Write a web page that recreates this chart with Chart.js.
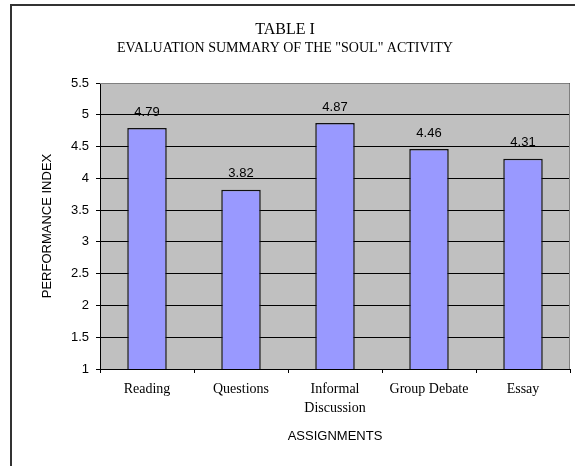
<!DOCTYPE html>
<html>
<head>
<meta charset="utf-8">
<title>TABLE I - Evaluation summary</title>
<script src="https://cdn.jsdelivr.net/npm/chart.js@4.4.1/dist/chart.umd.min.js"></script>
<style>
  html, body { margin: 0; padding: 0; background: #fff; }
  #chart { display: block; }
</style>
</head>
<body>
<canvas id="chart" width="575" height="466"></canvas>
<script>
// データ
const categories = ['Reading', 'Questions', ['Informal', 'Discussion'], 'Group Debate', 'Essay'];
const scores = [4.79, 3.82, 4.87, 4.46, 4.31];
const yTickLabels = ['1', '1.5', '2', '2.5', '3', '3.5', '4', '4.5', '5', '5.5'];

const SERIF = "'Liberation Serif', 'Times New Roman', serif";
const SANS = "'Liberation Sans', Arial, sans-serif";

/**
 * 外枠・プロットエリア背景
 */
const plotFrame = {
  id: 'plotFrame',
  beforeDraw(chart) {
    const { ctx, chartArea: a } = chart;
    ctx.save();
    ctx.fillStyle = '#fff';
    ctx.fillRect(0, 0, chart.width, chart.height);
    // 外枠（右と下は切れている）
    ctx.strokeStyle = '#333';
    ctx.lineWidth = 2;
    ctx.strokeRect(11, 5, chart.width + 20, chart.height + 20);
    // プロットエリア
    ctx.fillStyle = '#c0c0c0';
    ctx.fillRect(a.left, a.top, a.right - a.left, a.bottom - a.top);
    ctx.restore();
  },
  afterDatasetsDraw(chart) {
    const { ctx, chartArea: a } = chart;
    ctx.save();
    ctx.strokeStyle = '#808080';
    ctx.lineWidth = 1;
    ctx.beginPath();
    ctx.moveTo(a.left, a.top + 0.5);
    ctx.lineTo(a.right - 0.5, a.top + 0.5);
    ctx.lineTo(a.right - 0.5, a.bottom);
    ctx.stroke();
    ctx.restore();
  }
};

/**
 * 棒の上の値ラベル
 */
const valueLabels = {
  id: 'valueLabels',
  afterDatasetsDraw(chart) {
    const { ctx } = chart;
    const meta = chart.getDatasetMeta(0);
    ctx.save();
    ctx.font = '13px ' + SANS;
    ctx.fillStyle = '#000';
    ctx.textAlign = 'center';
    ctx.textBaseline = 'middle';
    meta.data.forEach((bar, i) => {
      ctx.fillText(scores[i].toFixed(2), bar.x, bar.y - 16);
    });
    ctx.restore();
  }
};

new Chart(document.getElementById('chart'), {
  type: 'bar',
  data: {
    labels: categories,
    datasets: [{
      data: scores,
      backgroundColor: '#9999ff',
      borderColor: '#111',
      borderWidth: 1.5,
      borderSkipped: false,
      barPercentage: 0.42,
      categoryPercentage: 1
    }]
  },
  options: {
    responsive: false,
    animation: false,
    devicePixelRatio: 1,
    layout: {
      padding: { top: 0, right: 5, bottom: 0, left: 0 }
    },
    plugins: {
      legend: { display: false },
      tooltip: { enabled: false },
      title: {
        display: true,
        text: 'TABLE I',
        color: '#000',
        font: { family: SERIF, size: 16, weight: 'normal', lineHeight: 1.2 },
        padding: { top: 20, bottom: 0 }
      },
      subtitle: {
        display: true,
        text: 'EVALUATION SUMMARY OF THE "SOUL" ACTIVITY',
        color: '#000',
        font: { family: SERIF, size: 14, weight: 'normal', lineHeight: 1.2 },
        padding: { top: 1, bottom: 26 }
      }
    },
    scales: {
      x: {
        afterFit(scale) { scale.height = 97; },
        grid: {
          offset: true,
          drawOnChartArea: false,
          drawTicks: true,
          tickLength: 4,
          tickColor: '#000'
        },
        border: { display: true, color: '#000', width: 1 },
        ticks: {
          color: '#000',
          padding: 7,
          maxRotation: 0,
          autoSkip: false,
          font: { family: SERIF, size: 14, lineHeight: 1.33 }
        },
        title: {
          display: true,
          text: 'ASSIGNMENTS',
          color: '#000',
          font: { family: SANS, size: 13, lineHeight: 1.2 },
          padding: { top: 0, bottom: 22 }
        }
      },
      y: {
        min: 1,
        max: 5.5,
        afterFit(scale) { scale.width = 100; },
        grid: {
          color: '#000',
          lineWidth: 1,
          drawTicks: true,
          tickLength: 4,
          tickColor: '#000'
        },
        border: { display: true, color: '#000', width: 1 },
        ticks: {
          stepSize: 0.5,
          color: '#000',
          padding: 7,
          font: { family: SANS, size: 13 },
          callback: (value, index) => yTickLabels[index]
        },
        title: {
          display: true,
          text: 'PERFORMANCE INDEX',
          color: '#000',
          font: { family: SANS, size: 13, lineHeight: 1.2 },
          padding: { top: 40 }
        }
      }
    }
  },
  plugins: [plotFrame, valueLabels]
});
</script>
</body>
</html>
